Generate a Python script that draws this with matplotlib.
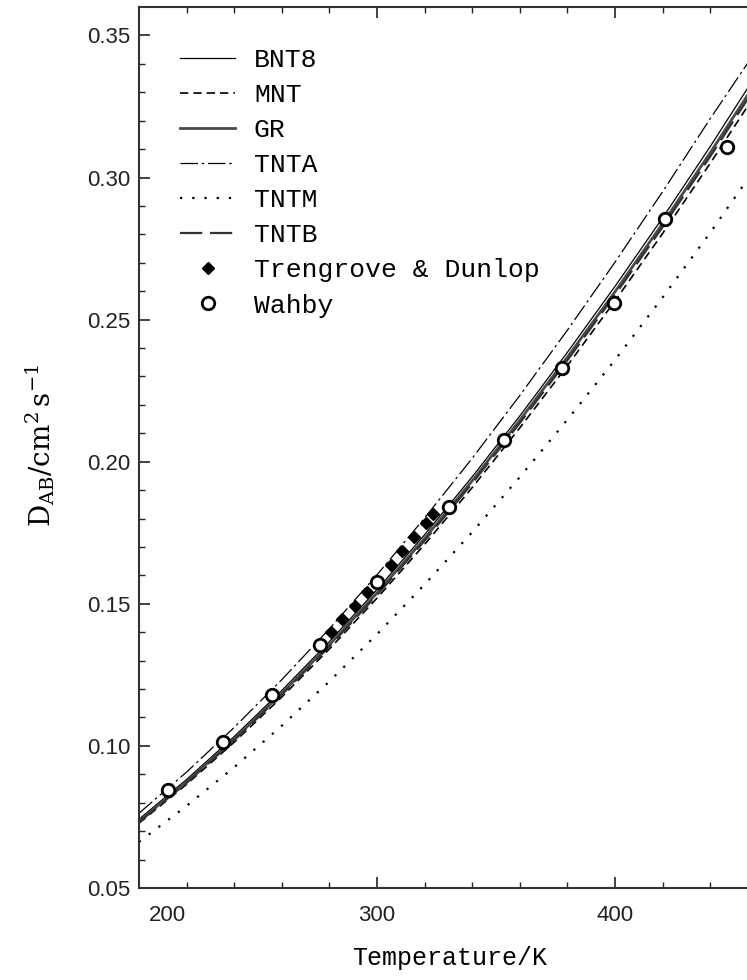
import matplotlib
matplotlib.use("Agg")
import matplotlib.pyplot as plt
from matplotlib.transforms import ScaledTranslation

# diffusion coefficient vs temperature, six model curves + two data sets
T = [200, 220, 240, 260, 280, 300, 320, 340, 360, 380, 400, 420, 440, 460]

bnt8 = [0.0742, 0.0882, 0.1033, 0.1195, 0.1367, 0.1550, 0.1743, 0.1947,
        0.2161, 0.2385, 0.2617, 0.2858, 0.3109, 0.3370]
mnt = [0.0728, 0.0865, 0.1013, 0.1172, 0.1341, 0.1520, 0.1709, 0.1909,
       0.2119, 0.2338, 0.2566, 0.2803, 0.3050, 0.3305]
gr = [0.0735, 0.0874, 0.1024, 0.1185, 0.1356, 0.1538, 0.1730, 0.1933,
      0.2146, 0.2368, 0.2598, 0.2838, 0.3087, 0.3345]
tnta = [0.0763, 0.0908, 0.1065, 0.1233, 0.1412, 0.1602, 0.1802, 0.2012,
        0.2233, 0.2463, 0.2702, 0.2950, 0.3207, 0.3455]
tntm = [0.0662, 0.0789, 0.0925, 0.1071, 0.1227, 0.1393, 0.1568, 0.1752,
        0.1946, 0.2148, 0.2358, 0.2578, 0.2806, 0.3045]
tntb = [0.0732, 0.0870, 0.1020, 0.1180, 0.1350, 0.1531, 0.1722, 0.1924,
        0.2136, 0.2357, 0.2587, 0.2826, 0.3074, 0.3331]

td_T = [276, 280.5, 285.5, 290.8, 295.7, 300, 305.7, 310.7, 315.5, 320.4, 323.6]
td_D = [0.1353, 0.1400, 0.1447, 0.1494, 0.1540, 0.1575, 0.1638, 0.1687,
        0.1734, 0.1786, 0.1815]

wa_T = [212.3, 235.4, 255.7, 276, 300, 330.3, 353.5, 377.6, 399.6, 421.2, 446.9]
wa_D = [0.0844, 0.1014, 0.1178, 0.1355, 0.1575, 0.1841, 0.2075, 0.2330,
        0.2559, 0.2855, 0.3108]

fig = plt.figure(figsize=(7.47, 9.8), dpi=100)
W, H = 747, 980
# axes runs past the right edge of the page
ax = fig.add_axes([139 / W, (H - 888) / H, 618.8 / W, 881 / H])

ax.plot(T, bnt8, color="black", lw=0.9, label="BNT8")
ax.plot(T, mnt, color="black", lw=1.2, dashes=(5, 3), label="MNT")
ax.plot(T, gr, color="#4a4a4a", lw=2.0, label="GR")
ax.plot(T, tnta, color="black", lw=0.9, dashes=(14, 3, 2, 3), label="TNTA")
ax.plot(T, tntm, color="black", lw=1.6, dashes=(1, 4.5), label="TNTM")
ax.plot(T, tntb, color="#333333", lw=1.6, dashes=(10, 3.5), label="TNTB")
ax.plot(td_T, td_D, "D", color="black", ms=6, ls="none", label="Trengrove & Dunlop")
ax.plot(wa_T, wa_D, "o", mfc="white", mec="black", mew=2.0, ms=9, ls="none",
        label="Wahby")

ax.set_xlim(200, 460)
ax.set_ylim(0.05, 0.36)
ax.set_xticks([200, 300, 400])
ax.set_xticks(range(200, 461, 20), minor=True)
ax.set_yticks([0.05, 0.10, 0.15, 0.20, 0.25, 0.30, 0.35])
ax.set_yticks([0.05 + 0.01 * i for i in range(31)], minor=True)
ax.set_yticklabels(["%.2f" % v for v in ax.get_yticks()])

ax.tick_params(which="both", direction="in", top=True, right=True, colors="#222222")
ax.tick_params(which="major", length=8, width=1.2)
ax.tick_params(which="minor", length=4, width=1.0)
ax.tick_params(axis="x", pad=12)
ax.tick_params(axis="y", pad=6)
for lab in ax.get_xticklabels() + ax.get_yticklabels():
    lab.set_fontfamily("Liberation Sans")
    lab.set_fontsize(16)
    lab.set_color("#222222")
# first x label sits to the right of the corner
first = ax.get_xticklabels()[0]
first.set_transform(first.get_transform() + ScaledTranslation(0.28, 0, fig.dpi_scale_trans))

for s in ax.spines.values():
    s.set_linewidth(1.5)
    s.set_color("#333333")

mono = "Liberation Mono"
fig.text(40 / W, 1 - 445 / H, r"$\mathregular{D_{AB}/cm^{2}\,s^{-1}}$", rotation=90,
         ha="center", va="center", fontsize=20, family="DejaVu Serif")
fig.text(450 / W, 1 - 958 / H, "Temperature/K", ha="center", va="center",
         fontsize=18, family=mono)

leg = ax.legend(loc="upper left", bbox_to_anchor=(180 / W, 1 - 48 / H),
                bbox_transform=fig.transFigure, frameon=False, numpoints=1,
                handlelength=2.1, handletextpad=0.7, labelspacing=0.42,
                borderpad=0, borderaxespad=0, prop={"family": mono, "size": 19})

fig.savefig("out.png", dpi=100)
